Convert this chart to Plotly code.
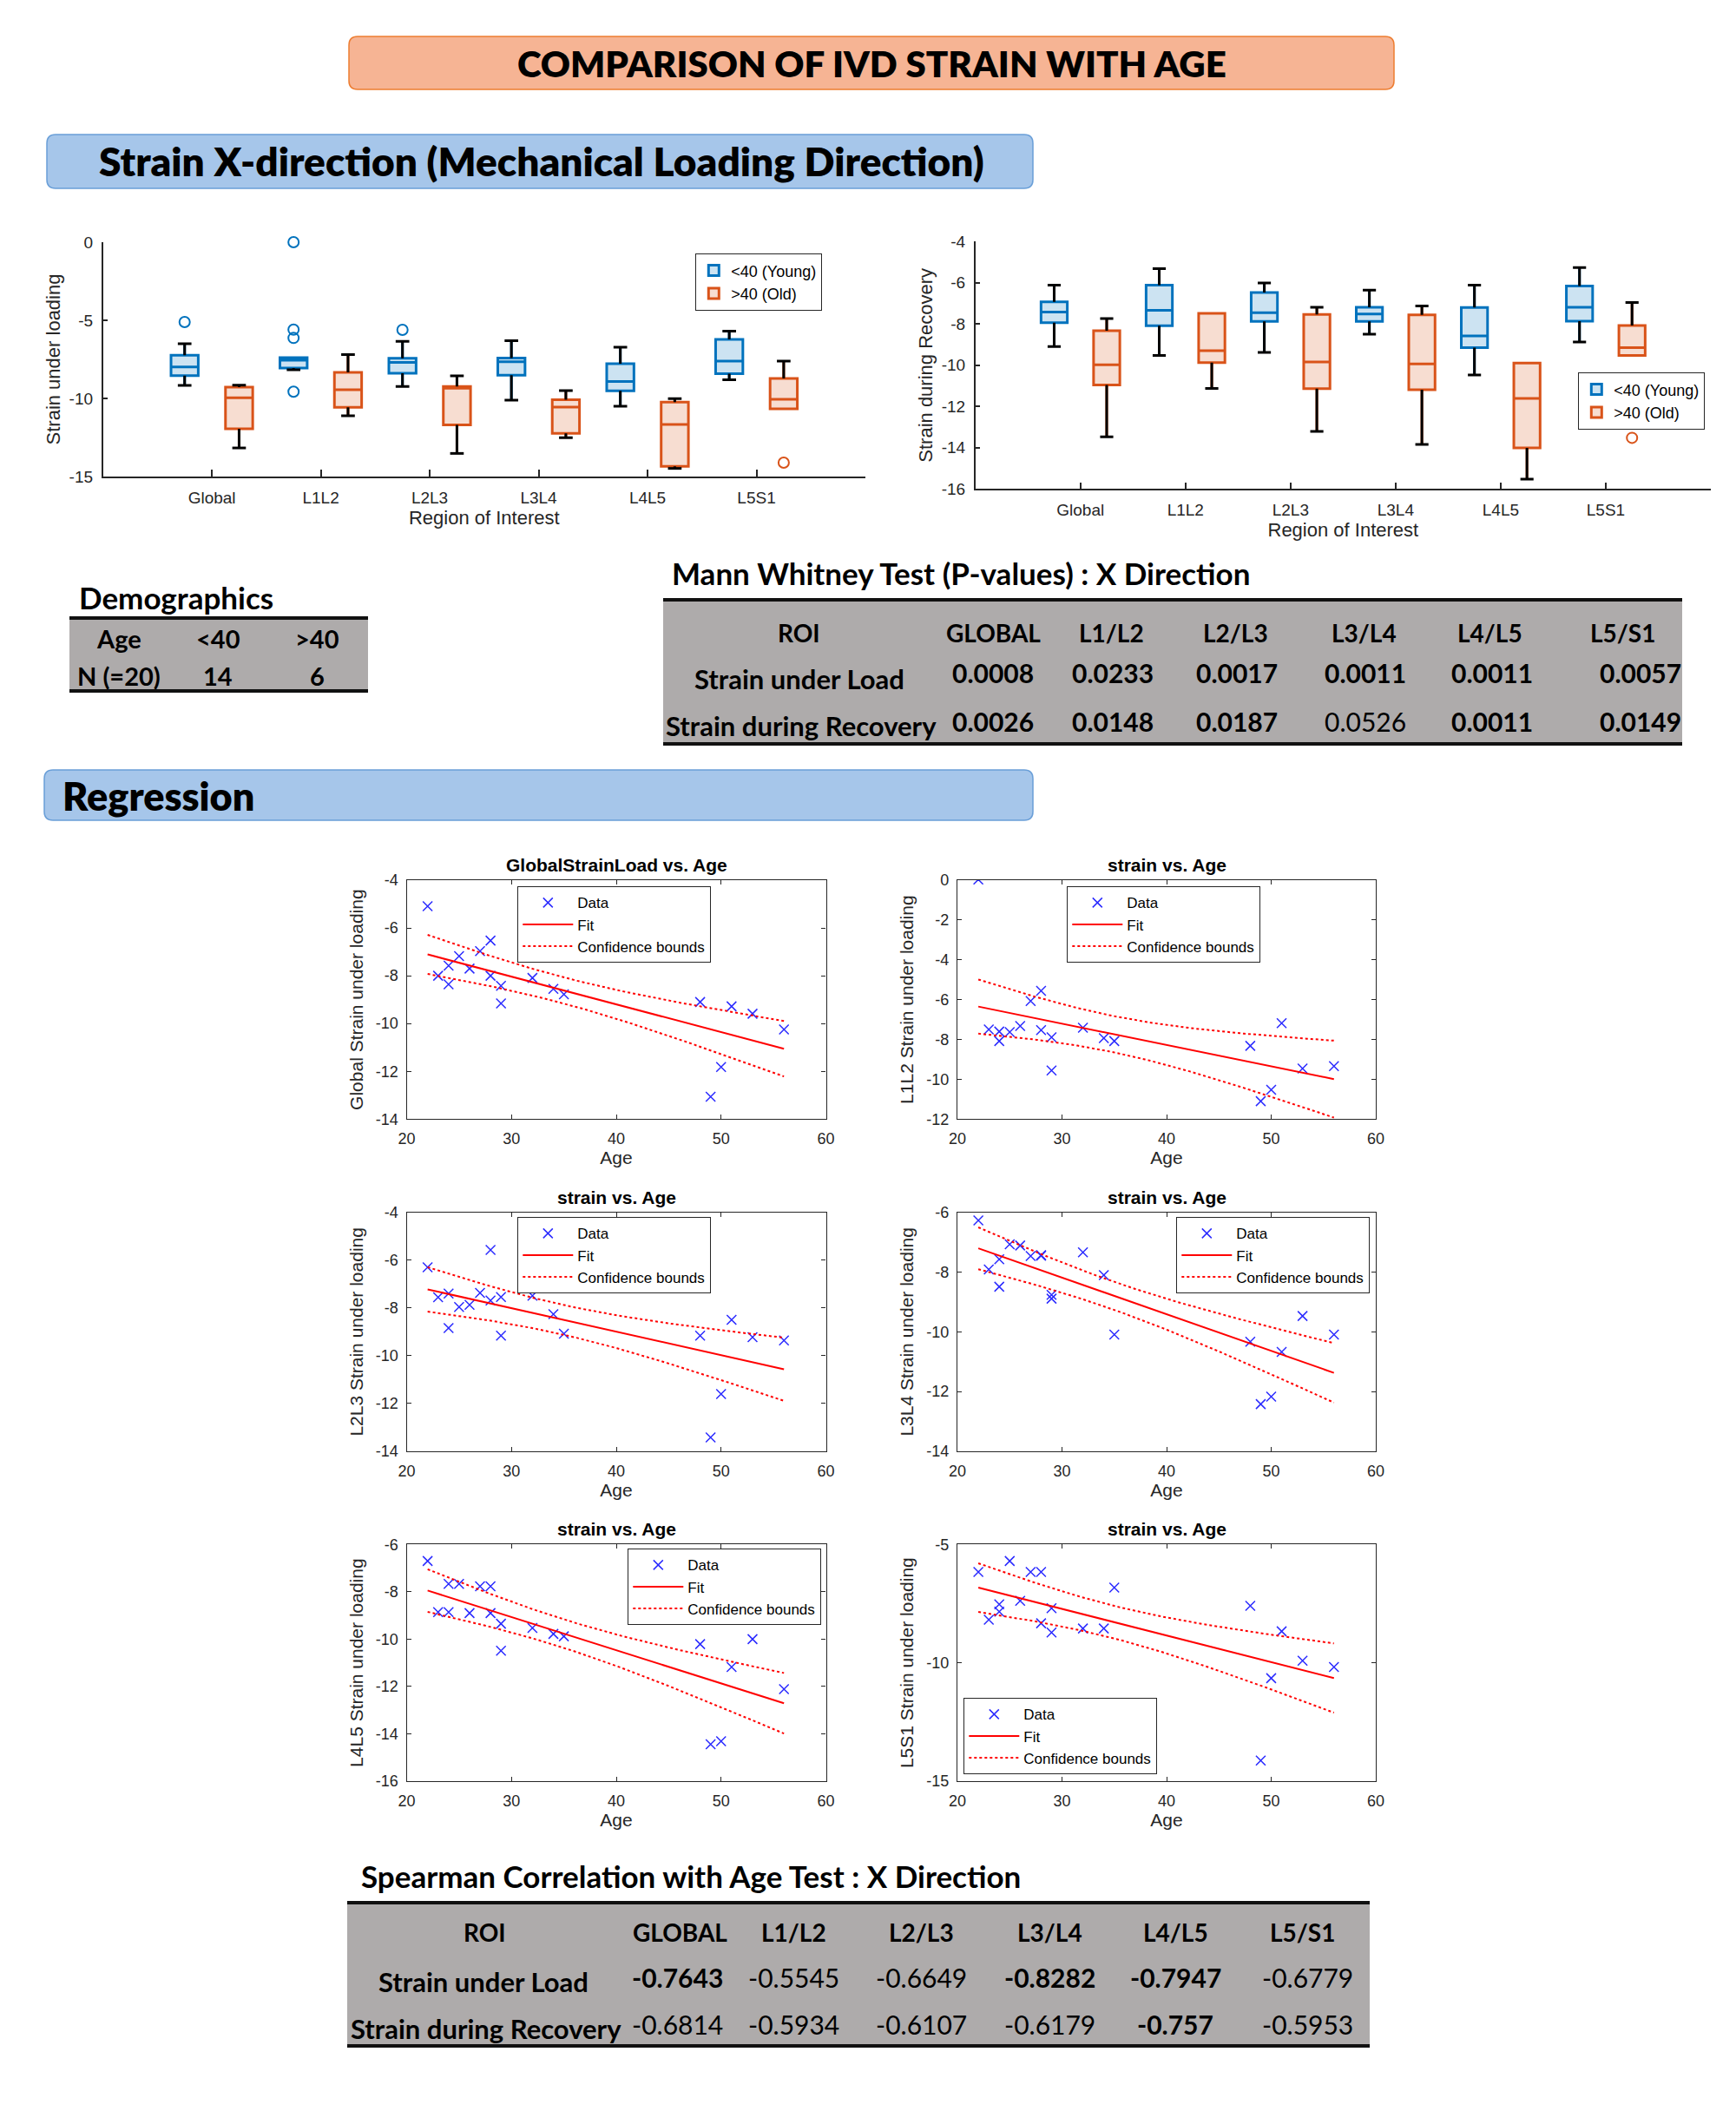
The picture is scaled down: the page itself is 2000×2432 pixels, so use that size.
import numpy as np
import plotly.graph_objects as go

W, H = 2000, 2432
FA = "Liberation Sans"   # chart (MATLAB-like) font
FD = "Lato"              # document / table font
AXC = "#262626"

# ---------------- data ----------------
regions = ["Global", "L1L2", "L2L3", "L3L4", "L4L5", "L5S1"]
group_names = ["&lt;40 (Young)", "&gt;40 (Old)"]

# Strain under loading: box statistics
load_young_lower = [-9.17, -8.17, -9.24, -10.11, -10.50, -8.80]
load_young_q1 = [-8.54, -8.06, -8.39, -8.52, -9.52, -8.41]
load_young_median = [-7.98, -7.56, -7.70, -7.65, -8.91, -7.61]
load_young_q3 = [-7.24, -7.39, -7.43, -7.41, -7.78, -6.22]
load_young_upper = [-6.50, -7.39, -6.35, -6.30, -6.72, -5.69]
load_old_lower = [-13.17, -11.11, -13.52, -12.52, -14.48, -10.67]
load_old_q1 = [-11.94, -10.57, -11.69, -12.24, -14.35, -10.67]
load_old_median = [-9.96, -9.44, -9.35, -10.56, -11.67, -10.06]
load_old_q3 = [-9.28, -8.33, -9.24, -10.09, -10.24, -8.72]
load_old_upper = [-9.15, -7.19, -8.56, -9.50, -10.02, -7.61]
load_young_out_region = [0, 1, 1, 1, 1, 2]
load_young_out_value = [-5.11, 0.0, -5.60, -6.13, -9.57, -5.61]
load_old_out_region = [5]
load_old_out_value = [-14.11]

# Strain during recovery: box statistics
rec_young_lower = [-9.09, -9.52, -9.38, -8.49, -10.47, -8.87]
rec_young_q1 = [-7.93, -8.08, -7.87, -7.87, -9.15, -7.86]
rec_young_median = [-7.42, -7.34, -7.45, -7.51, -8.58, -7.19]
rec_young_q3 = [-6.92, -6.11, -6.47, -7.19, -7.20, -6.16]
rec_young_upper = [-6.11, -5.31, -6.01, -6.36, -6.11, -5.26]
rec_old_lower = [-13.47, -11.12, -13.21, -13.84, -15.52, -9.52]
rec_old_q1 = [-10.96, -9.87, -11.13, -11.19, -14.01, -9.52]
rec_old_median = [-9.98, -9.29, -9.84, -9.94, -11.61, -9.14]
rec_old_q3 = [-8.32, -7.48, -7.54, -7.56, -9.89, -8.07]
rec_old_upper = [-7.73, -7.48, -7.19, -7.12, -9.89, -6.96]
rec_young_out_region = []
rec_young_out_value = []
rec_old_out_region = [5]
rec_old_out_value = [-13.52]

# Regression data (age vs strain under loading)
ages = [22, 23, 24, 24, 25, 26, 27, 28, 28, 29, 29, 32, 34, 35, 48, 49, 50, 51, 53, 56]
global_strain = [-5.09, -8.00, -7.58, -8.36, -7.18, -7.70, -6.97, -6.53, -8.00, -8.42,
                 -9.16, -8.09, -8.55, -8.78, -9.10, -13.06, -11.82, -9.28, -9.59, -10.25]
l1l2_strain = [0.03, -7.50, -7.60, -8.08, -7.63, -7.32, -6.07, -5.56, -7.53, -7.89,
               -9.56, -7.41, -7.93, -8.08, -8.32, -11.10, -10.53, -7.18, -9.46, -9.34]
l2l3_strain = [-6.30, -7.55, -7.40, -8.84, -7.96, -7.87, -7.37, -5.57, -7.69, -7.54,
               -9.16, -7.49, -8.26, -9.08, -9.16, -13.42, -11.60, -8.50, -9.22, -9.36]
l3l4_strain = [-6.27, -7.91, -7.57, -8.49, -7.07, -7.11, -7.46, -7.43, -7.45, -8.76,
               -8.89, -7.34, -8.10, -10.09, -10.33, -12.42, -12.17, -10.67, -9.47, -10.09]
l4l5_strain = [-6.70, -8.86, -7.67, -8.86, -7.67, -8.90, -7.77, -7.77, -8.90, -9.35,
               -10.49, -9.53, -9.78, -9.88, -10.21, -14.44, -14.31, -11.18, -10.00, -12.11]
l5s1_strain = [-6.16, -8.18, -7.53, -7.84, -5.70, -7.38, -6.16, -6.16, -8.33, -7.69,
               -8.72, -8.55, -8.55, -6.82, -7.59, -14.13, -10.65, -8.67, -9.91, -10.18]

# Tables
demo_header = ["Age", "&lt;40", "&gt;40"]
demo_row = ["N (=20)", "14", "6"]
roi_cols = ["GLOBAL", "L1/L2", "L2/L3", "L3/L4", "L4/L5", "L5/S1"]
row_labels = ["Strain under Load", "Strain during Recovery"]
mw_load = ["0.0008", "0.0233", "0.0017", "0.0011", "0.0011", "0.0057"]
mw_load_bold = [True, True, True, True, True, True]
mw_rec = ["0.0026", "0.0148", "0.0187", "0.0526", "0.0011", "0.0149"]
mw_rec_bold = [True, True, True, False, True, True]
sp_load = ["-0.7643", "-0.5545", "-0.6649", "-0.8282", "-0.7947", "-0.6779"]
sp_load_bold = [True, False, False, True, True, False]
sp_rec = ["-0.6814", "-0.5934", "-0.6107", "-0.6179", "-0.757", "-0.5953"]
sp_rec_bold = [False, False, False, False, True, False]

T_CRIT = 2.1009  # t(0.975, df=18)

# ---------------- helpers ----------------
def X(px):
    return px / W


def Y(py):
    return 1 - py / H


def dom_x(a, b):
    return [a / W, b / W]


def dom_y(top, bottom):
    return [1 - bottom / H, 1 - top / H]


def ann(x, y, text, size, weight="normal", family=FD, xanchor="center", yanchor="middle", color="black"):
    return dict(x=X(x), y=Y(y), xref="paper", yref="paper", text=text, showarrow=False,
                font=dict(family=family, size=size, color=color, weight=weight),
                xanchor=xanchor, yanchor=yanchor)


def rrect(x0, y0, x1, y1, r, fill, line):
    p = (f"M {X(x0 + r)},{Y(y0)} L {X(x1 - r)},{Y(y0)} Q {X(x1)},{Y(y0)} {X(x1)},{Y(y0 + r)} "
         f"L {X(x1)},{Y(y1 - r)} Q {X(x1)},{Y(y1)} {X(x1 - r)},{Y(y1)} "
         f"L {X(x0 + r)},{Y(y1)} Q {X(x0)},{Y(y1)} {X(x0)},{Y(y1 - r)} "
         f"L {X(x0)},{Y(y0 + r)} Q {X(x0)},{Y(y0)} {X(x0 + r)},{Y(y0)} Z")
    return dict(type="path", path=p, xref="paper", yref="paper", fillcolor=fill,
                line=dict(color=line, width=1.5), layer="below")


def whisker_xy(pos, lower, q1, q3, upper, cw):
    xs, ys = [], []
    for p, lo, a, b, up in zip(pos, lower, q1, q3, upper):
        if up > b:
            xs += [p, p, None, p - cw, p + cw, None]
            ys += [b, up, None, up, up, None]
        if lo < a:
            xs += [p, p, None, p - cw, p + cw, None]
            ys += [a, lo, None, lo, lo, None]
    return xs, ys


def fit_curve(x, y, n=80):
    x = np.asarray(x, float)
    y = np.asarray(y, float)
    b1, b0 = np.polyfit(x, y, 1)
    xg = np.linspace(x.min(), x.max(), n)
    yh = b0 + b1 * xg
    res = y - (b0 + b1 * x)
    s = np.sqrt(np.sum(res ** 2) / (len(x) - 2))
    sxx = np.sum((x - x.mean()) ** 2)
    hw = T_CRIT * s * np.sqrt(1.0 / len(x) + (xg - x.mean()) ** 2 / sxx)
    return xg, yh, yh - hw, yh + hw


def hyphen_ticks(lo, hi, step):
    vals = list(np.arange(lo, hi + step / 2, step))
    return [float(v) for v in vals], [f"{v:g}" for v in vals]


fig = go.Figure()

BLUE, BLUE_F = "#0072BD", "#CCE3F2"
ORANGE, ORANGE_F = "#D95319", "#F7DDD1"
BOX_W = 0.25
OFF = 0.25
base = np.arange(1, len(regions) + 1)

box_sets = [
    ("x", "y", "legend",
     [(load_young_lower, load_young_q1, load_young_median, load_young_q3, load_young_upper,
       load_young_out_region, load_young_out_value, -OFF, BLUE, BLUE_F),
      (load_old_lower, load_old_q1, load_old_median, load_old_q3, load_old_upper,
       load_old_out_region, load_old_out_value, OFF, ORANGE, ORANGE_F)]),
    ("x2", "y2", "legend2",
     [(rec_young_lower, rec_young_q1, rec_young_median, rec_young_q3, rec_young_upper,
       rec_young_out_region, rec_young_out_value, -OFF, BLUE, BLUE_F),
      (rec_old_lower, rec_old_q1, rec_old_median, rec_old_q3, rec_old_upper,
       rec_old_out_region, rec_old_out_value, OFF, ORANGE, ORANGE_F)]),
]

for xa, ya, lg, sets in box_sets:
    for gi, (lo, q1, med, q3, up, oreg, oval, off, col, fcol) in enumerate(sets):
        pos = base + off
        fig.add_trace(go.Box(x=pos, q1=q1, median=med, q3=q3, lowerfence=lo, upperfence=up,
                             width=BOX_W, fillcolor=fcol, line=dict(color=col, width=3),
                             whiskerwidth=0, boxpoints=False, name=group_names[gi],
                             xaxis=xa, yaxis=ya, legend=lg, hoverinfo="skip"))
    for gi, (lo, q1, med, q3, up, oreg, oval, off, col, fcol) in enumerate(sets):
        pos = base + off
        wx, wy = whisker_xy(pos, lo, q1, q3, up, BOX_W / 4)
        fig.add_trace(go.Scatter(x=wx, y=wy, mode="lines", line=dict(color="black", width=3),
                                 showlegend=False, xaxis=xa, yaxis=ya, hoverinfo="skip"))
        if len(oreg):
            fig.add_trace(go.Scatter(x=[base[r] + off for r in oreg], y=oval, mode="markers",
                                     marker=dict(symbol="circle-open", size=12, color=col,
                                                 line=dict(width=2, color=col)),
                                     cliponaxis=False, showlegend=False, xaxis=xa, yaxis=ya,
                                     hoverinfo="skip"))

# ---------------- regression subplots ----------------
col_x = [(468.5, 951.5), (1103, 1585)]
row_y = [(1014, 1289.3), (1396.7, 1672), (1779.3, 2052)]
reg_specs = [
    ("GlobalStrainLoad vs. Age", "Global Strain under loading", global_strain, [-14, -4], 2, 0, 0,
     dict(x=X(596), y=Y(1021), xanchor="left", yanchor="top")),
    ("strain vs. Age", "L1L2 Strain under loading", l1l2_strain, [-12, 0], 2, 1, 0,
     dict(x=X(1229), y=Y(1021), xanchor="left", yanchor="top")),
    ("strain vs. Age", "L2L3 Strain under loading", l2l3_strain, [-14, -4], 2, 0, 1,
     dict(x=X(596), y=Y(1402), xanchor="left", yanchor="top")),
    ("strain vs. Age", "L3L4 Strain under loading", l3l4_strain, [-14, -6], 2, 1, 1,
     dict(x=X(1578), y=Y(1402), xanchor="right", yanchor="top")),
    ("strain vs. Age", "L4L5 Strain under loading", l4l5_strain, [-16, -6], 2, 0, 2,
     dict(x=X(946), y=Y(1784), xanchor="right", yanchor="top")),
    ("strain vs. Age", "L5S1 Strain under loading", l5s1_strain, [-15, -5], 5, 1, 2,
     dict(x=X(1110), y=Y(2044), xanchor="left", yanchor="bottom")),
]

layout_axes = {}
legends = {}
annotations = []
tickf_box = dict(family=FA, size=19, color=AXC)
titlef_box = dict(family=FA, size=22, color=AXC)

tv1, tt1 = hyphen_ticks(-15, 0, 5)
tv2, tt2 = hyphen_ticks(-16, -4, 2)
layout_axes["xaxis"] = dict(domain=dom_x(118.6, 997), range=[0, 7], tickvals=list(base), ticktext=regions,
                            ticks="inside", ticklen=8, tickwidth=1.5, tickcolor=AXC, showline=True,
                            linecolor=AXC, linewidth=1.5, showgrid=False, zeroline=False,
                            tickfont=tickf_box, ticklabelstandoff=6, anchor="y",
                            title=dict(text="Region of Interest", font=titlef_box, standoff=4))
layout_axes["yaxis"] = dict(domain=dom_y(279, 549), range=[-15, 0], tickvals=tv1, ticktext=tt1,
                            ticks="inside", ticklen=6,
                            tickwidth=1.5, tickcolor=AXC, showline=True, linecolor=AXC, linewidth=1.5,
                            showgrid=False, zeroline=False, tickfont=tickf_box, ticklabelstandoff=6,
                            anchor="x", title=dict(text="Strain under loading", font=titlef_box, standoff=4))
layout_axes["xaxis2"] = dict(domain=dom_x(1123.7, 1971), range=[0, 7], tickvals=list(base), ticktext=regions,
                             ticks="inside", ticklen=8, tickwidth=1.5, tickcolor=AXC, showline=True,
                             linecolor=AXC, linewidth=1.5, showgrid=False, zeroline=False,
                             tickfont=tickf_box, ticklabelstandoff=6, anchor="y2",
                             title=dict(text="Region of Interest", font=titlef_box, standoff=6))
layout_axes["yaxis2"] = dict(domain=dom_y(278.3, 563.3), range=[-16, -4], tickvals=tv2, ticktext=tt2,
                             ticks="inside", ticklen=6,
                             tickwidth=1.5, tickcolor=AXC, showline=True, linecolor=AXC, linewidth=1.5,
                             showgrid=False, zeroline=False, tickfont=tickf_box, ticklabelstandoff=6,
                             anchor="x2", title=dict(text="Strain during Recovery", font=titlef_box, standoff=4))

box_leg = dict(bgcolor="white", bordercolor=AXC, borderwidth=1.3, font=dict(family=FA, size=18, color="black"),
               xref="paper", yref="paper", tracegroupgap=0)
legends["legend"] = dict(box_leg, x=X(801), y=Y(292), xanchor="left", yanchor="top")
legends["legend2"] = dict(box_leg, x=X(1818), y=Y(429), xanchor="left", yanchor="top")

tickf = dict(family=FA, size=18, color=AXC)
titlef = dict(family=FA, size=21, color=AXC)
for k, (ttl, ylab, vals, yr, dt, c, r, lpos) in enumerate(reg_specs):
    n = k + 3
    xa, ya, lg = f"x{n}", f"y{n}", f"legend{n}"
    x0, x1 = col_x[c]
    y0, y1 = row_y[r]
    tv, tt = hyphen_ticks(yr[0], yr[1], dt)
    layout_axes[f"xaxis{n}"] = dict(domain=dom_x(x0, x1), range=[20, 60], dtick=10, ticks="inside", ticklen=5,
                                    tickwidth=1.3, tickcolor=AXC, showline=True, mirror="ticks", linecolor=AXC,
                                    linewidth=1.3, showgrid=False, zeroline=False, tickfont=tickf,
                                    ticklabelstandoff=6, anchor=ya,
                                    title=dict(text="Age", font=titlef, standoff=3))
    layout_axes[f"yaxis{n}"] = dict(domain=dom_y(y0, y1), range=yr, tickvals=tv, ticktext=tt,
                                    ticks="inside", ticklen=5,
                                    tickwidth=1.3, tickcolor=AXC, showline=True, mirror="ticks", linecolor=AXC,
                                    linewidth=1.3, showgrid=False, zeroline=False, tickfont=tickf,
                                    ticklabelstandoff=5, anchor=xa,
                                    title=dict(text=ylab, font=titlef, standoff=8))
    xg, yh, lo, hi = fit_curve(ages, vals)
    fig.add_trace(go.Scatter(x=ages, y=vals, mode="markers", name="Data",
                             marker=dict(symbol="x-thin", size=11, color="#2B2BFF",
                                         line=dict(width=1.5, color="#2B2BFF")),
                             xaxis=xa, yaxis=ya, legend=lg, hoverinfo="skip"))
    fig.add_trace(go.Scatter(x=xg, y=yh, mode="lines", name="Fit", line=dict(color="#FF0000", width=2),
                             xaxis=xa, yaxis=ya, legend=lg, hoverinfo="skip"))
    fig.add_trace(go.Scatter(x=list(xg) + [None] + list(xg), y=list(lo) + [None] + list(hi), mode="lines",
                             name="Confidence bounds", line=dict(color="#FF0000", width=2, dash="dot"),
                             xaxis=xa, yaxis=ya, legend=lg, hoverinfo="skip"))
    legends[lg] = dict(lpos, bgcolor="white", bordercolor=AXC, borderwidth=1.3,
                       font=dict(family=FA, size=17, color="black"), itemwidth=58,
                       xref="paper", yref="paper", tracegroupgap=0)
    annotations.append(ann((x0 + x1) / 2, y0 - 4, ttl, 21, weight="bold", family=FA,
                           yanchor="bottom", color="black"))

# ---------------- document decorations ----------------
shapes = []
shapes.append(rrect(402, 42, 1606, 103, 10, "#F6B494", "#ED7D31"))
annotations.append(ann(1004, 73, "COMPARISON OF IVD STRAIN WITH AGE", 42, weight=800))
shapes.append(rrect(54, 155, 1190, 217, 10, "#A6C6EA", "#6A9FD8"))
annotations.append(ann(624, 186, "Strain X-direction (Mechanical Loading Direction)", 46, weight=800))
shapes.append(rrect(51, 887, 1190, 945, 10, "#A6C6EA", "#6A9FD8"))
annotations.append(ann(70, 917, "Regression", 45, weight=800, xanchor="left"))


def table_frame(x0, y0, x1, y1):
    return [dict(type="rect", xref="paper", yref="paper", x0=X(x0), x1=X(x1), y0=Y(y1), y1=Y(y0),
                 fillcolor="#AEABAB", line=dict(width=0), layer="below"),
            dict(type="line", xref="paper", yref="paper", x0=X(x0), x1=X(x1), y0=Y(y0), y1=Y(y0),
                 line=dict(color="#111111", width=4)),
            dict(type="line", xref="paper", yref="paper", x0=X(x0), x1=X(x1), y0=Y(y1), y1=Y(y1),
                 line=dict(color="#111111", width=4))]


def wt(b):
    return "bold" if b else "normal"


# Demographics
annotations.append(ann(89, 688, "Demographics", 35, weight="bold", xanchor="left"))
shapes += table_frame(80, 712, 424, 796)
demo_cols = [137, 251, 365]
for cx, h, v in zip(demo_cols, demo_header, demo_row):
    annotations.append(ann(cx, 736, h, 29, weight="bold"))
    annotations.append(ann(cx, 778, v, 29, weight="bold"))

# Mann Whitney table
annotations.append(ann(772, 660, "Mann Whitney Test (P-values) : X Direction", 35, weight="bold", xanchor="left"))
shapes += table_frame(764, 691, 1938, 857)
mw_hx = [1144, 1280, 1423, 1571, 1716, 1869]
mw_vx = [1144, 1282, 1425, 1573, 1719, 1890]
annotations.append(ann(920, 729, "ROI", 28, weight="bold"))
annotations.append(ann(921, 782, row_labels[0], 31, weight="bold"))
annotations.append(ann(923, 836, row_labels[1], 31, weight="bold"))
for hx, vx, h, a, ab, b, bb in zip(mw_hx, mw_vx, roi_cols, mw_load, mw_load_bold, mw_rec, mw_rec_bold):
    annotations.append(ann(hx, 729, h, 28, weight="bold"))
    annotations.append(ann(vx, 775, a, 30, weight=wt(ab)))
    annotations.append(ann(vx, 831, b, 30, weight=wt(bb)))

# Spearman table
annotations.append(ann(414, 2161, "Spearman Correlation with Age Test : X Direction", 35, weight="bold",
                       xanchor="left"))
shapes += table_frame(400, 2192, 1578, 2357)
sp_hx = [783, 914, 1061, 1209, 1354, 1500]
sp_vx = [780, 914, 1061, 1209, 1354, 1506]
annotations.append(ann(558, 2226, "ROI", 28, weight="bold"))
annotations.append(ann(557, 2283, row_labels[0], 31, weight="bold"))
annotations.append(ann(560, 2337, row_labels[1], 31, weight="bold"))
for hx, vx, h, a, ab, b, bb in zip(sp_hx, sp_vx, roi_cols, sp_load, sp_load_bold, sp_rec, sp_rec_bold):
    annotations.append(ann(hx, 2226, h, 28, weight="bold"))
    annotations.append(ann(vx, 2278, a, 30, weight=wt(ab)))
    annotations.append(ann(vx, 2332, b, 30, weight=wt(bb)))

fig.update_layout(width=W, height=H, margin=dict(l=0, r=0, t=0, b=0, pad=0, autoexpand=False),
                  paper_bgcolor="white", plot_bgcolor="white", boxmode="overlay",
                  shapes=shapes, annotations=annotations, **layout_axes, **legends)

fig.write_html("out.html", config={"displayModeBar": False},
               post_script="document.body.style.margin='0';")
